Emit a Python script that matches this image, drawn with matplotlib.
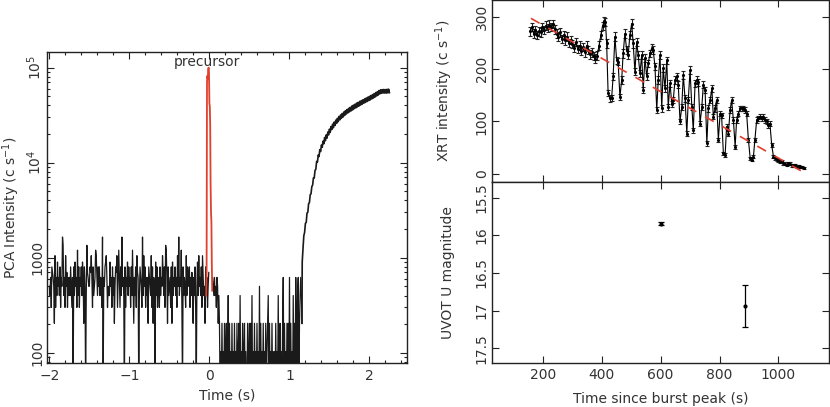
import numpy as np
import matplotlib
matplotlib.use("Agg")
import matplotlib.pyplot as plt
from matplotlib.ticker import FixedLocator, FixedFormatter, LogLocator, NullFormatter, MultipleLocator

plt.rcParams['font.family'] = ['DejaVu Sans']
plt.rcParams['font.size'] = 10

TXT = '#333333'

# ---- PCA light curve (left) ----
# count levels of the binned PCA data (c/s); characters below index into this
pca_levels = {'0': 40, '1': 103, '2': 204, '3': 300, '4': 400, '5': 500, '6': 620,
              'd': 700, '7': 800, 'c': 900, '8': 1050, 'a': 1200, '9': 1350, 'b': 1650}
pca_dt = 1 / 128
pre_start = -2.0
pre_bins = ("54637d6528364c56" "47365b946385d364" "647536074c563a47" "36574c6275049d65"
            "57d8637456a86475" "74653b0657c86354" "4c563746257d836a" "6374b56407365c47"
            "56374a5264738d60" "47653b4857364627" "6548372650c47365" "374658d4739a6274"
            "56372c465746385b" "465a307465384756" "7364d52647305c48" "564738645274635d")
post_start = 0.04
post_bins = ("65464536524"
             "2010201020120140201020" "1020102012040102012010"
             "0201202040102010201050" "2010201020124020102010"
             "1020104012010260201020" "2060201040206204602464" "2")

# precursor (red)
prec_t = [-0.04, -0.035, -0.03, -0.025, -0.02, -0.015, -0.01, -0.005, 0.0, 0.005,
          0.01, 0.015, 0.02, 0.025, 0.03, 0.035]
prec_rate = [400, 700, 7.0e4, 8.2e4, 7.6e4, 9.5e4, 1.0e5, 8.8e4, 4.2e4, 3.9e4,
             2.5e4, 6000, 3000, 2400, 900, 450]

# main burst rise
burst_t0 = 1.16
burst_dt = 0.01
burst_rate = [900, 1250, 1700, 1850, 2300, 2350, 2950, 3000, 3700, 3800,
              4600, 4700, 5600, 5800, 6900, 6900, 8300, 8500, 10300, 10100,
              12000, 11600, 13700, 13100, 15300, 14500, 16800, 15800, 18400, 17000,
              19600, 18100, 21000, 19600, 22500, 20800, 24000, 22300, 25400, 23300,
              26700, 24600, 28000, 25900, 29300, 27000, 30600, 28200, 31800, 29300,
              32900, 30200, 34100, 31300, 35200, 32400, 36200, 33300, 37200, 34200,
              38200, 35000, 39400, 35800, 40300, 37000, 41200, 37600, 42300, 38600,
              43100, 39400, 44200, 40300, 45000, 41200, 45900, 42200, 46900, 43000,
              47900, 43900, 48800, 44900, 49800, 45700, 50900, 46800, 52000, 47800,
              53300, 49000, 54600, 50200, 55900, 51400, 57300, 52800, 58400, 53700,
              58600, 53900, 58900, 54000, 58600, 53800, 59200, 54200, 59300, 54500]

# ---- XRT light curve (top right) ----
xrt_t = [157, 163, 169, 175, 181, 187, 193, 199, 205, 211, 217, 223, 229, 235, 241,
         247, 253, 259, 265, 271, 277, 283, 289, 295, 301, 307, 313, 319, 325, 331,
         337, 343, 349, 355, 361, 367, 373, 379, 385, 391, 397, 403, 409, 413,
         417, 422, 428, 434, 439, 445, 451, 456, 462, 468, 473, 479, 485, 490, 496,
         502, 507, 513, 519, 524, 530, 536, 541, 547, 553, 558, 564, 570, 575, 581,
         587, 592, 598, 604, 609, 615, 621, 626, 632, 638, 643, 649, 655, 660, 666,
         672, 677, 683, 689, 694, 700, 706, 711, 717, 723, 728, 734, 740, 745, 751,
         757, 762, 768, 774, 779, 785, 790, 796, 802, 807, 813, 819, 824, 830, 836,
         841, 847, 853, 858, 864, 870, 875, 881, 887, 892, 898, 904, 909, 915, 920,
         926, 932, 937, 943, 949, 954, 960, 966, 971, 977, 983, 988, 994, 1000, 1005,
         1011, 1016, 1022, 1028, 1033, 1039, 1045, 1050, 1056, 1062, 1068, 1074, 1079, 1085]
xrt_rate = [272, 280, 268, 275, 265, 272, 270, 280, 275, 283, 278, 285, 280, 286, 276,
            268, 262, 270, 258, 265, 255, 262, 250, 256, 248, 240, 252, 238, 245, 235,
            242, 232, 245, 236, 228, 232, 225, 220, 226, 245, 265, 282, 292, 290,
            249, 154, 144, 145, 186, 262, 217, 214, 147, 179, 230, 268, 236, 227, 265,
            287, 249, 195, 252, 227, 192, 227, 160, 221, 186, 211, 230, 240, 236, 205,
            122, 179, 227, 125, 202, 163, 217, 128, 173, 134, 141, 179, 186, 170, 100,
            128, 189, 144, 77, 141, 198, 128, 83, 173, 179, 175, 96, 128, 170, 160,
            58, 125, 141, 163, 109, 125, 141, 65, 115, 112, 39, 36, 90, 77, 122,
            141, 103, 52, 103, 115, 125, 125, 125, 122, 115, 65, 30, 27, 33, 65,
            103, 106, 109, 106, 109, 103, 100, 93, 96, 55, 33, 30, 28, 26, 23,
            24, 20, 19, 17, 20, 19, 16, 15, 17, 14, 15, 13, 13, 12]
xrt_err = [8, 8, 8, 8, 8, 8, 8, 8, 8, 8, 8, 8, 8, 8, 8,
           8, 8, 8, 8, 8, 8, 8, 8, 8, 8, 8, 8, 8, 8, 8,
           8, 8, 8, 8, 8, 8, 8, 8, 8, 8, 8, 8, 8, 8,
           8, 6, 6, 6, 7, 8, 7, 7, 6, 7, 8, 8, 8, 7, 8,
           8, 8, 7, 8, 7, 7, 7, 6, 7, 7, 7, 7, 8, 8, 7,
           6, 7, 7, 6, 7, 6, 7, 6, 7, 6, 6, 7, 7, 7, 5,
           6, 7, 6, 5, 6, 7, 6, 5, 7, 7, 7, 5, 6, 7, 6,
           4, 6, 6, 6, 5, 6, 6, 4, 5, 5, 3, 3, 5, 5, 6,
           6, 5, 4, 5, 5, 5, 5, 5, 5, 5, 4, 3, 3, 3, 4,
           5, 5, 5, 5, 5, 5, 5, 5, 5, 4, 3, 3, 3, 3, 3,
           3, 3, 3, 2, 3, 3, 2, 2, 2, 2, 2, 2, 2, 2]
# linear decay model (red dashed)
fit_t = [160, 1085]
fit_rate = [297, 3]

# ---- UVOT (bottom right) ----
uvot_t = [603, 885]
uvot_mag = [15.845, 16.94]
uvot_err = [0.02, 0.28]


def style_axes(ax):
    ax.tick_params(which='both', direction='in', top=True, right=True,
                   colors='#222222', labelcolor=TXT, labelsize=10)
    ax.tick_params(which='major', length=5, width=0.8)
    ax.tick_params(which='minor', length=2.5, width=0.8)
    ax.tick_params(axis='x', pad=4)
    ax.tick_params(axis='y', pad=2)
    for s in ax.spines.values():
        s.set_linewidth(1.0)
        s.set_color('#222222')
    for lab in ax.get_yticklabels():
        lab.set_rotation(90)
        lab.set_va('center')


fig = plt.figure(figsize=(8.3, 4.07), dpi=100)

# left panel
ax = fig.add_axes([0.0563, 0.1081, 0.4341, 0.7649])
pre_t = pre_start + pca_dt * np.arange(len(pre_bins))
pre_r = [pca_levels[c] for c in pre_bins]
post_t = post_start + pca_dt * np.arange(len(post_bins))
post_r = [pca_levels[c] for c in post_bins]
burst_t = burst_t0 + burst_dt * np.arange(len(burst_rate))

ax.plot(pre_t, pre_r, color='#1a1a1a', lw=0.9)
ax.plot(post_t, post_r, color='#1a1a1a', lw=0.9)
ax.plot(np.r_[post_t[-1], burst_t], np.r_[post_r[-1], burst_rate], color='#1a1a1a', lw=1.2)
ax.plot(prec_t, prec_rate, color='#e0402e', lw=1.3)
ax.set_yscale('log')
ax.set_xlim(-2.033, 2.47)
ax.set_ylim(78, 1.47e5)
ax.xaxis.set_major_locator(MultipleLocator(1))
ax.xaxis.set_minor_locator(MultipleLocator(0.2))
ax.yaxis.set_major_locator(FixedLocator([100, 1000, 1e4, 1e5]))
ax.yaxis.set_major_formatter(FixedFormatter(['100', '1000', '10$^4$', '10$^5$']))
ax.yaxis.set_minor_locator(LogLocator(base=10, subs=range(2, 10)))
ax.yaxis.set_minor_formatter(NullFormatter())
ax.set_xlabel('Time (s)', color=TXT, labelpad=4)
ax.set_ylabel('PCA Intensity (c s$^{-1}$)', color=TXT)
ax.yaxis.set_label_coords(-0.068, 0.5)
ax.text(-0.03, 1.15e5, 'precursor', ha='center', va='center', color=TXT, fontsize=10)
style_axes(ax)

# top right panel
ax1 = fig.add_axes([0.5924, 0.5536, 0.4066, 0.4464])
ax1.errorbar(xrt_t, xrt_rate, yerr=xrt_err, fmt='.', ms=2.5, color='black',
             ecolor='#222222', elinewidth=0.8, capsize=1.5, capthick=0.8)
ax1.plot(xrt_t, xrt_rate, color='black', lw=0.8)
ax1.plot(fit_t, fit_rate, color='#e0402e', lw=1.2, dashes=(6, 6), zorder=5)
ax1.set_xlim(27, 1172)
ax1.set_ylim(-15, 332)
ax1.xaxis.set_major_locator(MultipleLocator(200))
ax1.yaxis.set_major_locator(MultipleLocator(100))
ax1.tick_params(labelbottom=False)
ax1.set_ylabel('XRT intensity (c s$^{-1}$)', color=TXT)
ax1.yaxis.set_label_coords(-0.109, 0.5)
style_axes(ax1)

# bottom right panel
ax2 = fig.add_axes([0.5924, 0.1088, 0.4066, 0.4448])
ax2.errorbar(uvot_t, uvot_mag, yerr=uvot_err, fmt='o', ms=2, color='black',
             elinewidth=0.9, capsize=2, capthick=0.9)
ax2.set_xlim(27, 1172)
ax2.set_ylim(17.69, 15.29)
ax2.xaxis.set_major_locator(MultipleLocator(200))
ax2.yaxis.set_major_locator(FixedLocator([15.5, 16, 16.5, 17, 17.5]))
ax2.yaxis.set_major_formatter(FixedFormatter(['15.5', '16', '16.5', '17', '17.5']))
ax2.set_xlabel('Time since burst peak (s)', color=TXT, labelpad=7)
ax2.set_ylabel('UVOT U magnitude', color=TXT)
ax2.yaxis.set_label_coords(-0.109, 0.5)
style_axes(ax2)

fig.savefig('out.png', dpi=100)
